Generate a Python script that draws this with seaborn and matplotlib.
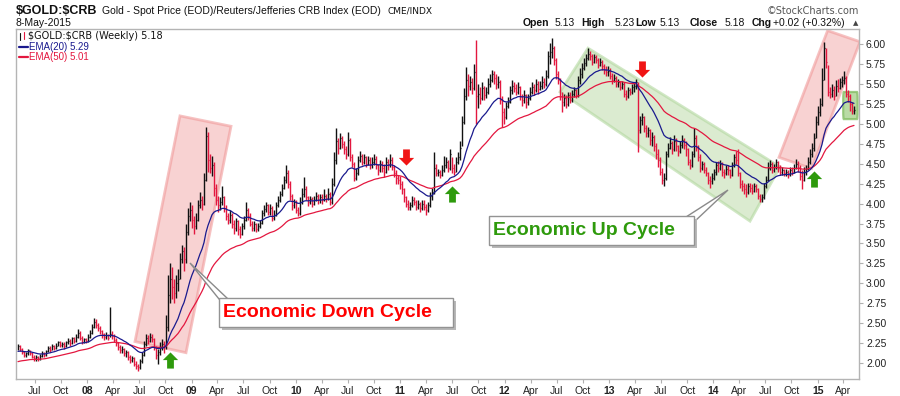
import numpy as np
import pandas as pd
import matplotlib
matplotlib.use('Agg')
import matplotlib.pyplot as plt
import matplotlib.dates as mdates
from matplotlib.patches import Polygon, Rectangle, FancyBboxPatch
from matplotlib.lines import Line2D
from matplotlib.path import Path
import seaborn as sns

# weekly bars, last one = 8-May-2015
last_date = '2015-05-08'

closes = [
    2.21, 2.18, 2.14, 2.10, 2.12, 2.16, 2.13, 2.08, 2.06,
    2.07, 2.05, 2.09, 2.12, 2.10, 2.15, 2.19, 2.17, 2.21, 2.19, 2.22, 2.26, 2.23,   # Jul 07
    2.24, 2.21, 2.26, 2.28, 2.25, 2.31, 2.28, 2.33, 2.38, 2.32, 2.27, 2.30, 2.28,   # Oct 07
    2.33, 2.38, 2.45, 2.52, 2.48, 2.44, 2.40, 2.36, 2.33, 2.35, 2.32, 2.37, 2.34,   # Jan 08
    2.29, 2.25, 2.20, 2.16, 2.18, 2.12, 2.14, 2.08, 2.04, 2.06, 1.99, 1.96, 1.95,   # Apr 08
    2.02, 2.10, 2.24, 2.32, 2.28, 2.33, 2.30, 2.20, 2.10, 2.14, 2.20, 2.24, 2.22,   # Jul 08
    2.45, 2.85, 3.05, 2.95, 2.88, 3.00, 3.05, 3.30, 3.40, 3.30, 3.65, 3.85, 3.92,   # Oct 08
    3.80, 3.72, 3.80, 3.98, 4.05, 4.00, 4.30, 4.85, 4.55, 4.45, 4.48, 4.20, 4.05,   # Jan 09
    3.98, 4.02, 4.08, 3.95, 3.85, 3.80, 3.86, 3.75, 3.70, 3.78, 3.68, 3.62, 3.72,   # Apr 09
    3.80, 3.92, 3.85, 3.75, 3.70, 3.74, 3.68, 3.72, 3.76, 3.88, 3.93, 3.98, 3.90,   # Jul 09
    3.95, 3.82, 3.86, 3.98, 4.05, 4.12, 4.20, 4.30, 4.38, 4.25, 4.10, 3.98, 4.02,   # Oct 09
    3.92, 3.88, 4.02, 4.12, 4.18, 4.08, 4.02, 4.06, 4.00, 4.05, 4.10, 4.04, 4.08,   # Jan 10
    4.05, 4.10, 4.06, 4.12, 4.02, 4.25, 4.55, 4.78, 4.70, 4.82, 4.75, 4.68, 4.62,   # Apr 10
    4.80, 4.58, 4.50, 4.32, 4.38, 4.55, 4.60, 4.52, 4.58, 4.50, 4.55, 4.48, 4.52,   # Jul 10
    4.56, 4.48, 4.42, 4.50, 4.45, 4.40, 4.52, 4.48, 4.55, 4.46, 4.38, 4.32, 4.30,   # Oct 10
    4.25, 4.18, 4.08, 4.00, 3.96, 3.98, 4.05, 4.02, 3.96, 3.99, 3.94, 4.00, 3.96,   # Jan 11
    3.92, 3.98, 4.10, 4.15, 4.45, 4.38, 4.40, 4.36, 4.42, 4.48, 4.52, 4.45, 4.62,   # Apr 11
    4.45, 4.40, 4.52, 4.58, 4.70, 5.02, 5.35, 5.55, 5.48, 5.52, 5.45, 5.65, 5.35,   # Jul 11
    5.38, 5.32, 5.45, 5.36, 5.40, 5.50, 5.55, 5.62, 5.58, 5.50, 5.52, 5.30, 5.15,   # Oct 11
    5.08, 5.22, 5.28, 5.42, 5.48, 5.45, 5.40, 5.46, 5.35, 5.30, 5.36, 5.28, 5.32,   # Jan 12
    5.40, 5.46, 5.42, 5.50, 5.44, 5.48, 5.52, 5.50, 5.60, 5.85, 5.90, 5.95, 5.80,   # Apr 12
    5.62, 5.55, 5.35, 5.28, 5.32, 5.25, 5.36, 5.30, 5.38, 5.42, 5.36, 5.55, 5.62,   # Jul 12
    5.70, 5.76, 5.82, 5.88, 5.85, 5.78, 5.84, 5.80, 5.74, 5.78, 5.72, 5.68, 5.65,   # Oct 12
    5.66, 5.60, 5.55, 5.58, 5.50, 5.52, 5.46, 5.50, 5.38, 5.35, 5.42, 5.40, 5.46,   # Jan 13
    5.48, 5.52, 4.92, 5.05, 5.08, 4.95, 4.88, 4.92, 4.80, 4.84, 4.72, 4.62, 4.55,   # Apr 13
    4.40, 4.30, 4.32, 4.62, 4.70, 4.76, 4.68, 4.78, 4.72, 4.66, 4.74, 4.80, 4.74,   # Jul 13
    4.68, 4.52, 4.48, 4.62, 4.82, 4.70, 4.58, 4.45, 4.50, 4.42, 4.38, 4.30, 4.28,   # Oct 13
    4.32, 4.40, 4.48, 4.45, 4.50, 4.40, 4.38, 4.44, 4.42, 4.36, 4.48, 4.58, 4.55,   # Jan 14
    4.38, 4.25, 4.22, 4.18, 4.15, 4.22, 4.20, 4.16, 4.22, 4.18, 4.10, 4.06, 4.08,   # Apr 14
    4.22, 4.30, 4.45, 4.50, 4.42, 4.46, 4.52, 4.45, 4.40, 4.42, 4.38, 4.40, 4.36,   # Jul 14
    4.42, 4.40, 4.45, 4.50, 4.46, 4.35, 4.30, 4.40, 4.44, 4.52, 4.62, 4.70, 4.82,   # Oct 14
    5.02, 5.15, 5.25, 5.55, 5.95, 5.78, 5.40, 5.38, 5.42, 5.35, 5.48, 5.45, 5.52,   # Jan 15
    5.55, 5.58, 5.38, 5.35, 5.25, 5.16, 5.18,
]

highs = [
    2.24, 2.23, 2.19, 2.15, 2.14, 2.18, 2.17, 2.14, 2.10,
    2.10, 2.09, 2.11, 2.15, 2.14, 2.17, 2.22, 2.21, 2.24, 2.23, 2.25, 2.28, 2.28,
    2.27, 2.26, 2.28, 2.31, 2.30, 2.33, 2.33, 2.36, 2.43, 2.40, 2.34, 2.32, 2.32,
    2.36, 2.41, 2.49, 2.57, 2.55, 2.50, 2.46, 2.42, 2.38, 2.39, 2.37, 2.70, 2.40,
    2.36, 2.31, 2.27, 2.23, 2.21, 2.19, 2.17, 2.15, 2.10, 2.09, 2.07, 2.02, 1.99,
    2.05, 2.14, 2.28, 2.37, 2.35, 2.38, 2.36, 2.31, 2.21, 2.18, 2.27, 2.30, 2.28,
    2.60, 3.10, 3.25, 3.20, 3.05, 3.10, 3.18, 3.38, 3.48, 3.45, 3.75, 3.95, 4.02,
    3.98, 3.85, 3.88, 4.05, 4.15, 4.10, 4.38, 4.96, 4.90, 4.62, 4.60, 4.52, 4.25,
    4.10, 4.08, 4.22, 4.10, 3.98, 3.88, 3.92, 3.88, 3.80, 3.82, 3.80, 3.72, 3.76,
    3.84, 4.02, 3.95, 3.88, 3.78, 3.78, 3.76, 3.76, 3.80, 3.92, 3.98, 4.02, 3.99,
    3.99, 3.97, 3.92, 4.02, 4.10, 4.16, 4.25, 4.34, 4.48, 4.42, 4.28, 4.12, 4.06,
    4.05, 3.96, 4.08, 4.20, 4.33, 4.22, 4.10, 4.10, 4.08, 4.10, 4.14, 4.12, 4.12,
    4.12, 4.18, 4.12, 4.20, 4.15, 4.32, 4.65, 4.95, 4.82, 4.88, 4.85, 4.78, 4.72,
    4.90, 4.82, 4.62, 4.52, 4.45, 4.60, 4.66, 4.62, 4.62, 4.60, 4.60, 4.58, 4.58,
    4.62, 4.60, 4.50, 4.55, 4.54, 4.50, 4.58, 4.56, 4.62, 4.58, 4.48, 4.42, 4.36,
    4.34, 4.28, 4.20, 4.10, 4.04, 4.02, 4.10, 4.08, 4.04, 4.04, 4.02, 4.05, 4.04,
    3.99, 4.02, 4.14, 4.20, 4.65, 4.50, 4.44, 4.42, 4.48, 4.60, 4.58, 4.55, 4.68,
    4.58, 4.50, 4.58, 4.65, 4.78, 5.10, 5.45, 5.71, 5.62, 5.60, 5.58, 5.75, 6.05,
    5.50, 5.46, 5.52, 5.48, 5.46, 5.58, 5.62, 5.68, 5.66, 5.62, 5.60, 5.55, 5.35,
    5.20, 5.28, 5.34, 5.48, 5.55, 5.52, 5.50, 5.52, 5.48, 5.38, 5.42, 5.38, 5.38,
    5.46, 5.52, 5.50, 5.56, 5.54, 5.54, 5.60, 5.58, 5.68, 5.92, 6.02, 6.08, 5.98,
    5.82, 5.66, 5.58, 5.40, 5.38, 5.36, 5.40, 5.40, 5.42, 5.46, 5.44, 5.60, 5.70,
    5.76, 5.82, 5.88, 5.95, 5.92, 5.88, 5.88, 5.86, 5.82, 5.82, 5.80, 5.75, 5.72,
    5.72, 5.70, 5.64, 5.62, 5.60, 5.56, 5.54, 5.54, 5.52, 5.42, 5.46, 5.45, 5.50,
    5.52, 5.56, 5.52, 5.10, 5.14, 5.10, 4.98, 4.96, 4.94, 4.90, 4.86, 4.76, 4.68,
    4.58, 4.45, 4.38, 4.66, 4.76, 4.84, 4.78, 4.86, 4.82, 4.74, 4.78, 4.86, 4.82,
    4.78, 4.70, 4.56, 4.66, 4.95, 4.86, 4.74, 4.62, 4.54, 4.52, 4.46, 4.40, 4.34,
    4.38, 4.44, 4.52, 4.54, 4.55, 4.52, 4.44, 4.48, 4.48, 4.44, 4.52, 4.62, 4.66,
    4.68, 4.40, 4.30, 4.26, 4.24, 4.26, 4.26, 4.24, 4.26, 4.25, 4.20, 4.12, 4.12,
    4.26, 4.34, 4.52, 4.55, 4.52, 4.50, 4.56, 4.54, 4.48, 4.46, 4.44, 4.44, 4.42,
    4.46, 4.46, 4.50, 4.56, 4.54, 4.48, 4.42, 4.46, 4.48, 4.58, 4.68, 4.76, 4.88,
    5.10, 5.22, 5.33, 5.70, 6.03, 5.95, 5.74, 5.46, 5.50, 5.48, 5.55, 5.56, 5.58,
    5.60, 5.66, 5.60, 5.42, 5.38, 5.28, 5.23,
]

lows = [
    2.16, 2.15, 2.11, 2.07, 2.08, 2.10, 2.10, 2.06, 2.03,
    2.03, 2.02, 2.04, 2.08, 2.07, 2.09, 2.14, 2.14, 2.16, 2.16, 2.18, 2.21, 2.20,
    2.20, 2.18, 2.20, 2.24, 2.22, 2.24, 2.25, 2.27, 2.32, 2.29, 2.24, 2.25, 2.25,
    2.26, 2.31, 2.37, 2.44, 2.44, 2.40, 2.36, 2.32, 2.29, 2.30, 2.29, 2.33, 2.30,
    2.26, 2.21, 2.16, 2.12, 2.13, 2.09, 2.08, 2.04, 2.00, 2.01, 1.96, 1.92, 1.90,
    1.93, 2.00, 2.09, 2.22, 2.24, 2.26, 2.26, 2.17, 2.05, 1.99, 2.10, 2.17, 2.13,
    2.18, 2.40, 2.75, 2.80, 2.75, 2.82, 2.90, 3.05, 3.25, 3.15, 3.25, 3.60, 3.78,
    3.70, 3.62, 3.68, 3.78, 3.95, 3.92, 3.98, 4.28, 4.40, 4.38, 4.35, 4.10, 3.98,
    3.90, 3.92, 3.98, 3.90, 3.80, 3.74, 3.76, 3.70, 3.62, 3.66, 3.60, 3.57, 3.60,
    3.68, 3.78, 3.80, 3.72, 3.66, 3.66, 3.64, 3.66, 3.70, 3.74, 3.85, 3.90, 3.86,
    3.86, 3.78, 3.79, 3.84, 3.96, 4.02, 4.10, 4.18, 4.26, 4.20, 4.04, 3.92, 3.94,
    3.88, 3.84, 3.86, 4.00, 4.08, 4.04, 3.97, 4.00, 3.96, 3.98, 4.03, 4.00, 4.01,
    4.00, 4.03, 4.02, 4.04, 3.98, 4.00, 4.22, 4.50, 4.62, 4.68, 4.70, 4.62, 4.56,
    4.60, 4.54, 4.46, 4.28, 4.30, 4.36, 4.52, 4.48, 4.50, 4.46, 4.48, 4.44, 4.45,
    4.48, 4.44, 4.36, 4.40, 4.40, 4.33, 4.38, 4.42, 4.46, 4.42, 4.33, 4.25, 4.24,
    4.18, 4.12, 4.02, 3.96, 3.92, 3.92, 3.96, 3.98, 3.92, 3.93, 3.90, 3.92, 3.92,
    3.86, 3.90, 3.96, 4.05, 4.12, 4.34, 4.34, 4.32, 4.34, 4.40, 4.45, 4.40, 4.42,
    4.38, 4.36, 4.40, 4.50, 4.55, 4.72, 5.00, 5.30, 5.35, 5.42, 5.38, 5.42, 5.00,
    5.20, 5.25, 5.30, 5.30, 5.32, 5.38, 5.46, 5.52, 5.50, 5.44, 5.45, 5.25, 4.96,
    5.00, 5.06, 5.20, 5.26, 5.38, 5.40, 5.36, 5.38, 5.30, 5.22, 5.26, 5.20, 5.24,
    5.30, 5.38, 5.36, 5.40, 5.38, 5.42, 5.44, 5.45, 5.48, 5.58, 5.75, 5.82, 5.74,
    5.56, 5.50, 5.30, 5.15, 5.22, 5.20, 5.22, 5.26, 5.28, 5.34, 5.32, 5.34, 5.50,
    5.58, 5.68, 5.72, 5.80, 5.80, 5.74, 5.76, 5.76, 5.70, 5.72, 5.68, 5.62, 5.60,
    5.60, 5.56, 5.50, 5.52, 5.46, 5.46, 5.42, 5.44, 5.34, 5.30, 5.33, 5.36, 5.38,
    5.40, 5.44, 4.65, 4.88, 4.98, 4.90, 4.84, 4.84, 4.74, 4.72, 4.66, 4.56, 4.46,
    4.36, 4.25, 4.22, 4.30, 4.58, 4.68, 4.62, 4.66, 4.66, 4.60, 4.64, 4.70, 4.68,
    4.60, 4.48, 4.44, 4.46, 4.58, 4.66, 4.54, 4.40, 4.42, 4.38, 4.34, 4.24, 4.20,
    4.24, 4.30, 4.36, 4.40, 4.42, 4.34, 4.32, 4.36, 4.36, 4.32, 4.34, 4.46, 4.50,
    4.34, 4.20, 4.16, 4.12, 4.08, 4.12, 4.14, 4.12, 4.14, 4.14, 4.06, 4.02, 4.02,
    4.06, 4.20, 4.28, 4.42, 4.38, 4.40, 4.44, 4.40, 4.36, 4.36, 4.34, 4.34, 4.32,
    4.34, 4.36, 4.38, 4.44, 4.40, 4.30, 4.18, 4.28, 4.36, 4.42, 4.50, 4.58, 4.66,
    4.82, 4.98, 5.10, 5.22, 5.55, 5.70, 5.35, 5.32, 5.34, 5.30, 5.35, 5.40, 5.44,
    5.46, 5.50, 5.34, 5.28, 5.16, 5.12, 5.13,
]

# EMA values already running at the left edge of the chart
ema20_seed = 2.14
ema50_seed = 2.01

tick_dates = pd.date_range('2007-07-01', '2015-04-01', freq='QS-JAN')
tick_labels = ['Jul', 'Oct', '08', 'Apr', 'Jul', 'Oct', '09', 'Apr', 'Jul', 'Oct',
               '10', 'Apr', 'Jul', 'Oct', '11', 'Apr', 'Jul', 'Oct', '12', 'Apr',
               'Jul', 'Oct', '13', 'Apr', 'Jul', 'Oct', '14', 'Apr', 'Jul', 'Oct',
               '15', 'Apr']
y_ticks = [2.00, 2.25, 2.50, 2.75, 3.00, 3.25, 3.50, 3.75, 4.00, 4.25,
           4.50, 4.75, 5.00, 5.25, 5.50, 5.75, 6.00]

dates = pd.date_range(end=last_date, periods=len(closes), freq='W-FRI')
df = pd.DataFrame({'Date': dates, 'Close': closes, 'High': highs, 'Low': lows})
df['EMA20'] = pd.Series([ema20_seed] + closes).ewm(span=20, adjust=False).mean().iloc[1:].values
df['EMA50'] = pd.Series([ema50_seed] + closes).ewm(span=50, adjust=False).mean().iloc[1:].values
df['Up'] = df.Close.diff().fillna(1) >= 0

RED = '#e3173f'
NAVY = '#1a1a8e'

sns.set_theme(style='white')
plt.rcParams['font.family'] = ['Liberation Sans', 'DejaVu Sans']

W, H = 900, 396
fig = plt.figure(figsize=(9, 3.96), dpi=100)
ax = fig.add_axes([16 / W, 1 - 379 / H, 843 / W, 350 / H])


def wk(i):
    # week number -> date (0 = first bar)
    return dates[0] + pd.Timedelta(days=7 * i)


def fp(px, py):
    # pixel -> figure fraction
    return (px / W, 1 - py / H)


# shaded cycle boxes (behind the bars)
pink_down = [(wk(81), 5.10), (wk(106.5), 4.97), (wk(84), 2.13), (wk(58.5), 2.27)]
pink_up = [(wk(404.8), 6.17), (wk(421), 6.03), (wk(396.8), 4.44), (wk(380.5), 4.58)]
green_ch = [(wk(285), 5.95), (wk(381), 4.46), (wk(366), 3.78), (wk(271), 5.40)]
for pts, fc, ec in [(pink_down, '#f4b4b4', '#f09a9a'), (pink_up, '#f4b4b4', '#f09a9a'),
                    (green_ch, '#c3dfb2', '#b3d8a0')]:
    xy = [(mdates.date2num(d), v) for d, v in pts]
    ax.add_patch(Polygon(xy, closed=True, facecolor=fc, edgecolor=ec, alpha=0.6, lw=2, zorder=1))

gb = FancyBboxPatch((mdates.date2num(wk(412.6)), 5.06), 7 * 7.2, 0.34,
                    boxstyle='round,pad=0,rounding_size=2', mutation_aspect=0.05,
                    facecolor='#a9d38f', edgecolor='#86bf66', alpha=0.8, lw=1.6, zorder=1)
ax.add_patch(gb)

# OHLC bars (high-low + close tick)
cols = np.where(df.Up, '#111111', RED)
ax.vlines(df.Date, df.Low, df.High, colors=cols, lw=1.0, zorder=3)
ax.hlines(df.Close, df.Date, df.Date + pd.Timedelta(days=4), colors=cols, lw=0.9, zorder=3)

sns.lineplot(data=df, x='Date', y='EMA50', color=RED, lw=0.9, ax=ax, zorder=4)
sns.lineplot(data=df, x='Date', y='EMA20', color=NAVY, lw=0.9, ax=ax, zorder=4)

# block arrows
up_arrow = Path([(0, 1), (0.95, 0.05), (0.42, 0.05), (0.42, -1), (-0.42, -1), (-0.42, 0.05),
                 (-0.95, 0.05), (0, 1)])
down_arrow = Path([(x, -y) for x, y in up_arrow.vertices])
for i, v, mk, c in [(76, 2.04, up_arrow, '#2e9a0c'), (194, 4.58, down_arrow, '#f01414'),
                    (217, 4.12, up_arrow, '#2e9a0c'), (312, 5.69, down_arrow, '#f01414'),
                    (398, 4.31, up_arrow, '#2e9a0c')]:
    ax.scatter([wk(i)], [v], marker=mk, s=135, color=c, lw=0, zorder=5, clip_on=False)

ax.set_xlim(wk(-1), wk(420.5))
ax.set_ylim(1.80, 6.19)
ax.set_xlabel('')
ax.set_ylabel('')

ax.yaxis.tick_right()
ax.set_yticks(y_ticks)
ax.set_yticklabels([f'{t:.2f}' for t in y_ticks])
ax.set_xticks(tick_dates)
ax.set_xticklabels(tick_labels)
for lab, txt in zip(ax.get_xticklabels(), tick_labels):
    if txt.isdigit():
        lab.set_fontweight('bold')
ax.tick_params(axis='both', labelsize=7.5, colors='#b0b0b0', labelcolor='#222222',
               length=3, width=0.8, pad=2)
ax.tick_params(axis='y', right=True, left=False, labelright=True, labelleft=False)
ax.tick_params(axis='x', bottom=True)
for sp in ax.spines.values():
    sp.set_color('#b4b4b4')
    sp.set_linewidth(1)

# callout boxes


def callout(tip, base, box, text, color, tx):
    x0, y0, x1, y1 = box
    fig.add_artist(Polygon([fp(*tip), fp(*base[0]), fp(*base[1])], closed=True,
                           transform=fig.transFigure, facecolor='white', edgecolor='#8a8a8a',
                           lw=1, zorder=6))
    fig.add_artist(Rectangle(fp(x0 + 3, y1 + 3), (x1 - x0) / W, (y1 - y0) / H,
                             transform=fig.transFigure, facecolor='#b8b8b8', edgecolor='none',
                             zorder=7))
    fig.add_artist(Rectangle(fp(x0, y1), (x1 - x0) / W, (y1 - y0) / H,
                             transform=fig.transFigure, facecolor='white', edgecolor='#939393',
                             lw=1, zorder=8))
    fig.text(*fp(tx, (y0 + y1) / 2 + 0.5), text, color=color, fontsize=14, fontweight='bold',
             va='center', ha='left', zorder=9)


callout((190, 263), [(219, 299), (228, 299)], (219, 297.7, 452.7, 326.7),
        'Economic Down Cycle', '#ff0000', 223)
callout((728, 190), [(686, 217), (694, 222)], (489.3, 215.7, 694.3, 245),
        'Economic Up Cycle', '#2e9a0c', 493)

# header texts


def T(px, py, s, **kw):
    kw.setdefault('va', 'center')
    kw.setdefault('color', '#111111')
    return fig.text(*fp(px, py), s, **kw)


T(16, 11, '\\$GOLD:\\$CRB', fontsize=9, fontweight='bold')
T(102, 11.5, 'Gold - Spot Price (EOD)/Reuters/Jefferies CRB Index (EOD)', fontsize=7.5)
T(387, 11.5, 'CME/INDX', fontsize=6.5, family='DejaVu Sans')
T(16, 23.5, '8-May-2015', fontsize=7.5)
T(859, 10.5, '\u00a9StockCharts.com', fontsize=7, ha='right', color='#555555',
  family='DejaVu Sans')

hdr = [('Open', 522.7, 'bold'), ('5.13', 555, 'normal'), ('High', 581.7, 'bold'),
       ('5.23', 615, 'normal'), ('Low', 635.7, 'bold'), ('5.13', 660, 'normal'),
       ('Close', 689.3, 'bold'), ('5.18', 725, 'normal'), ('Chg', 751.7, 'bold'),
       ('+0.02 (+0.32%)', 773.3, 'normal')]
for s, px, fw in hdr:
    T(px, 23, s, fontsize=7.5, fontweight=fw)
T(852.5, 23, '\u25b2', fontsize=5, color='#444444', family='DejaVu Sans')

# legend in the plot corner
fig.add_artist(Line2D([19.5 / W, 19.5 / W], [1 - 33 / H, 1 - 40 / H], color='#111111', lw=0.8))
fig.add_artist(Line2D([23.5 / W, 23.5 / W], [1 - 32 / H, 1 - 39 / H], color=RED, lw=0.8))
T(28, 36, '\\$GOLD:\\$CRB (Weekly) 5.18', fontsize=7, family='DejaVu Sans')
fig.add_artist(Line2D([19 / W, 28 / W], [1 - 47 / H, 1 - 47 / H], color=NAVY, lw=1.6))
T(29, 47, 'EMA(20) 5.29', fontsize=7, color=NAVY)
fig.add_artist(Line2D([19 / W, 28 / W], [1 - 57 / H, 1 - 57 / H], color=RED, lw=1.6))
T(29, 57, 'EMA(50) 5.01', fontsize=7, color=RED)

fig.savefig('out.png', dpi=100, facecolor='white')
